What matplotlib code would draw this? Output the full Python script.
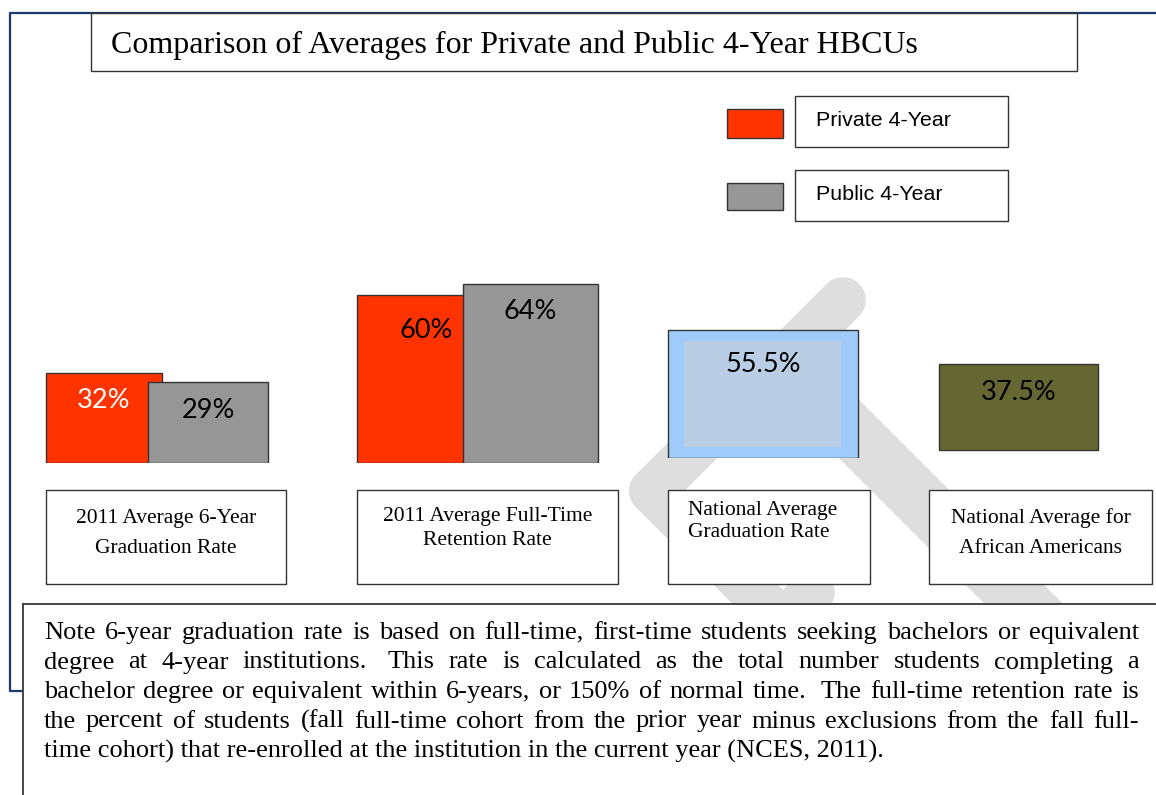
import re
import matplotlib
matplotlib.use("Agg")
import matplotlib.pyplot as plt
import matplotlib.patches as patches

# data
title = "Comparison of Averages for Private and Public 4-Year HBCUs"
series_names = ["Private 4-Year", "Public 4-Year"]
hbcu_labels = ["2011 Average 6-Year\nGraduation Rate", "2011 Average Full-Time\nRetention Rate"]
private = [32, 60]
public = [29, 64]
nat_labels = ["National Average\nGraduation Rate", "National Average for\nAfrican Americans"]
national = [55.5, 37.5]
note_lines = [
    "Note 6-year graduation rate is based on full-time, first-time students seeking bachelors or equivalent",
    "degree at 4-year institutions.  This rate is calculated as the total number students completing a",
    "bachelor degree or equivalent within 6-years, or 150% of normal time.  The full-time retention rate is",
    "the percent of students (fall full-time cohort from the prior year minus exclusions from the fall full-",
    "time cohort) that re-enrolled at the institution in the current year (NCES, 2011).",
]

W, H = 1156, 795
RED = '#FF3300'
GRAY = '#969696'
EDGE = '#333333'
NAVY = '#1B3A6B'
SERIF = 'Liberation Serif'

fig = plt.figure(figsize=(W / 100, H / 100), dpi=100)
ax = fig.add_axes([0, 0, 1, 1])
ax.set_xlim(0, W)
ax.set_ylim(H, 0)
ax.axis('off')


def box(x0, y0, x1, y1, fc='white', ec=EDGE, lw=1.0, z=2):
    ax.add_patch(patches.Rectangle((x0, y0), x1 - x0, y1 - y0, facecolor=fc,
                                   edgecolor=ec, linewidth=lw, zorder=z))


# faint watermark strokes behind everything
wm = '#DEDEDE'
for (xa, ya), (xb, yb), lw in [((843, 300), (652, 491), 33), ((652, 491), (790, 629), 33),
                               ((790, 370), (1080, 660), 40), ((812, 592), (760, 650), 33)]:
    ax.plot([xa, xb], [ya, yb], color=wm, lw=lw, solid_capstyle='round', zorder=0)

# outer frame
ax.plot([W + 5, 10, 10, 23], [13, 13, 691, 691], color=NAVY, lw=1.6, zorder=1)

# title
box(91, 13, 1077, 71, lw=1.0)
ax.text(111, 45, title, fontsize=23, family=SERIF, va='center', ha='left', zorder=3)

# legend
legend_cols = [RED, GRAY]
for i, (name, c) in enumerate(zip(series_names, legend_cols)):
    y0 = 96 + i * 74
    box(727, y0 + 13, 783, y0 + 42 - i * 2, fc=c)
    box(795, y0, 1008, y0 + 51)
    ax.text(816, y0 + 24.5, name, fontsize=15.4, family='Liberation Sans', va='center', zorder=3)

# category label boxes
LFS = 15.5
lab_boxes = [(46, 286), (357, 618), (668, 870), (929, 1152)]
for (x0, x1), lab, yc, ls in zip(lab_boxes[:2], hbcu_labels, [533.5, 528.5], [1.75, 1.42]):
    box(x0, 490, x1, 584)
    ax.text((x0 + x1) / 2, yc, lab, fontsize=LFS, family=SERIF, ha='center', va='center',
            linespacing=ls, zorder=3)
(x0, x1) = lab_boxes[2]
box(x0, 490, x1, 584)
ax.text(688, 521.5, nat_labels[0], fontsize=LFS, family=SERIF, ha='left', va='center',
        linespacing=1.18, zorder=3)
(x0, x1) = lab_boxes[3]
box(x0, 490, x1, 584)
ax.text((x0 + x1) / 2, 533, nat_labels[1], fontsize=LFS, family=SERIF, ha='center', va='center',
        linespacing=1.8, zorder=3)

# HBCU bars
PX = 2.8
base = 463
bx = fig.add_axes([0, (H - base) / H, 1, base / H])
bx.set_xlim(0, W)
bx.set_ylim(0, base / PX)
bx.axis('off')
priv_x, priv_w = [46, 357], [116, 108]
pub_x, pub_w = [148, 463], [120, 135]
bx.bar(priv_x, private, width=priv_w, align='edge', color=RED, edgecolor=EDGE, lw=1, zorder=2)
bx.bar(pub_x, public, width=pub_w, align='edge', color=GRAY, edgecolor=EDGE, lw=1, zorder=3)
VFS = 19.5
priv_dx, priv_dy = [0, 15], [-27, -35]
for x, w, v, dx, dy in zip(priv_x, priv_w, private, priv_dx, priv_dy):
    bx.annotate(f"{v}%", xy=(x + w / 2 + dx, v), xytext=(0, dy), textcoords='offset pixels',
                ha='center', va='center', fontsize=VFS, family='Lato',
                color='white' if v < 40 else 'black', zorder=4)
for x, w, v, dy in zip(pub_x, pub_w, public, [-29, -28]):
    bx.annotate(f"{v}%", xy=(x + w / 2, v), xytext=(0, dy), textcoords='offset pixels',
                ha='center', va='center', fontsize=VFS, family='Lato', zorder=4)

# national boxes
NPX = 2.3
nbase = 458
nx = fig.add_axes([0, (H - nbase) / H, 1, nbase / H])
nx.set_xlim(0, W)
nx.set_ylim(0, nbase / NPX)
nx.axis('off')
nat_x, nat_w, nat_bottom = [668, 939], [190, 159], [0, 3.5]
nat_cols = ['#9ECBFA', '#666633']
nx.bar(nat_x, national, width=nat_w, bottom=nat_bottom, align='edge', color=nat_cols,
       edgecolor=EDGE, lw=1, zorder=2)
inset = 4.8
nx.bar(nat_x[0] + 16, national[0] - 2 * inset, width=nat_w[0] - 33, bottom=inset,
       align='edge', color='#B9CDE5', lw=0, zorder=3)
for x, w, v, b, dy in zip(nat_x, nat_w, national, nat_bottom, [-34, -29]):
    nx.annotate(f"{v}%", xy=(x + w / 2, v + b), xytext=(0, dy), textcoords='offset pixels',
                ha='center', va='center', fontsize=VFS, family='Lato', zorder=4)

# note box with justified text
box(23, 604, W + 10, H + 10, ec='#444444', lw=1.4, z=2)
renderer = fig.canvas.get_renderer()
NFS = 19


def tw(s):
    t = ax.text(0, 0, s, fontsize=NFS, family=SERIF)
    w = t.get_window_extent(renderer).width
    t.remove()
    return w


left, right = 44, 1139
space_w = tw("a b") - tw("ab")
for k, line in enumerate(note_lines):
    y = 633 + k * 29.5
    if k == len(note_lines) - 1:
        ax.text(left, y, line, fontsize=NFS, family=SERIF, va='center', zorder=3)
        continue
    parts = re.split(r'( +)', line)
    words = parts[0::2]
    gaps = [len(g) for g in parts[1::2]]
    widths = [tw(wd) for wd in words]
    extra = sum((g - 1) * space_w for g in gaps)
    gap = (right - left - sum(widths) - extra) / len(gaps)
    x = left
    for i, (wd, wdw) in enumerate(zip(words, widths)):
        ax.text(x, y, wd, fontsize=NFS, family=SERIF, va='center', zorder=3)
        if i < len(gaps):
            x += wdw + gap + (gaps[i] - 1) * space_w

fig.savefig("out.png", dpi=100)
